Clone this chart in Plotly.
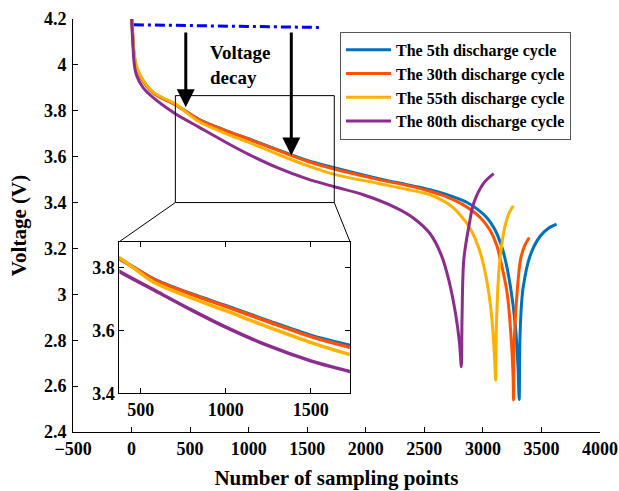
import plotly.graph_objects as go

# ---------------- data ----------------
names = ["The 5th discharge cycle", "The 30th discharge cycle",
         "The 55th discharge cycle", "The 80th discharge cycle"]
colors = ["#0072BD", "#FF5200", "#FFB000", "#8B2C8E"]

x_c5 = [1, 10, 22, 40, 74, 188, 374, 574, 800, 1000, 1250, 1500, 1731, 2121, 2350, 2548,
        2700, 2866, 3036, 3100, 3150, 3187, 3235, 3278, 3300, 3310,
        3316, 3330, 3345, 3401, 3487, 3560, 3629]
v_c5 = [4.20, 4.13, 4.04, 3.99, 3.95, 3.877, 3.827, 3.763, 3.715, 3.678, 3.630, 3.584, 3.552, 3.503, 3.478, 3.456,
        3.433, 3.400, 3.333, 3.285, 3.225, 3.160, 3.035, 2.860, 2.680, 2.542,
        2.800, 2.960, 3.034, 3.165, 3.252, 3.288, 3.306]

x_c30 = [1, 10, 22, 40, 74, 188, 374, 574, 800, 1000, 1250, 1500, 1731, 2121, 2350, 2548,
         2700, 2833, 2975, 3060, 3117, 3145, 3207, 3244, 3258, 3262,
         3268, 3292, 3321, 3355, 3396]
v_c30 = [4.20, 4.13, 4.04, 3.99, 3.95, 3.877, 3.827, 3.762, 3.714, 3.676, 3.627, 3.580, 3.546, 3.499, 3.475, 3.449,
         3.423, 3.390, 3.336, 3.280, 3.215, 3.160, 3.006, 2.788, 2.640, 2.539,
         2.800, 3.006, 3.151, 3.210, 3.248]

x_c55 = [1, 10, 22, 40, 74, 188, 374, 574, 800, 1000, 1250, 1500, 1731, 2121, 2350, 2548,
         2638, 2724, 2808, 2888, 2940, 2990, 3040, 3078, 3100, 3109,
         3115, 3130, 3145, 3188, 3220, 3259]
v_c55 = [4.20, 4.13, 4.05, 4.00, 3.955, 3.880, 3.830, 3.753, 3.702, 3.662, 3.610, 3.561, 3.523, 3.482, 3.458, 3.434,
         3.414, 3.387, 3.345, 3.290, 3.235, 3.160, 3.040, 2.889, 2.720, 2.626,
         2.850, 3.050, 3.151, 3.296, 3.350, 3.386]

x_c80 = [1, 10, 20, 30, 46, 100, 188, 374, 574, 800, 1000, 1250, 1500, 1731, 1979, 2263,
         2400, 2548, 2646, 2710, 2766, 2800, 2816,
         2822, 2837, 2880, 2922, 3007, 3092]
v_c80 = [4.20, 4.10, 4.02, 3.98, 3.95, 3.90, 3.856, 3.787, 3.729, 3.664, 3.610, 3.551, 3.503, 3.469, 3.434, 3.376,
         3.335, 3.265, 3.170, 3.060, 2.918, 2.790, 2.684,
         2.900, 3.151, 3.296, 3.398, 3.485, 3.526]

ref_x = [20, 1610]          # blue dash-dot reference line
ref_v = [4.175, 4.163]

arrow_x = [463, 1364]        # "voltage decay" arrows
arrow_top = [4.148, 4.148]
arrow_tip = [3.815, 3.605]

main_xticks = [-500, 0, 500, 1000, 1500, 2000, 2500, 3000, 3500, 4000]
main_xlabels = ["\u2212500", "0", "500", "1000", "1500", "2000", "2500", "3000", "3500", "4000"]
main_yticks = [2.4, 2.6, 2.8, 3.0, 3.2, 3.4, 3.6, 3.8, 4.0, 4.2]
main_ylabels = ["2.4", "2.6", "2.8", "3", "3.2", "3.4", "3.6", "3.8", "4", "4.2"]
inset_xticks = [500, 1000, 1500]
inset_xlabels = ["500", "1000", "1500"]
inset_yticks = [3.4, 3.6, 3.8]
inset_ylabels = ["3.4", "3.6", "3.8"]

# ---------------- layout constants ----------------
W, H = 619, 491
ML, MR, MT, MB = 73, 19, 19, 59
X_RANGE = [-500, 4000]
Y_RANGE = [2.4, 4.2]
INSET_X = [374, 1731]
INSET_Y = [3.4, 3.881]
RECT_Y = [3.4, 3.866]
INSET_DOM_X = [0.0879, 0.5256]
INSET_DOM_Y = [0.0937, 0.4608]

FONT = "Liberation Serif"

def bold(labels):
    return ["<b>%s</b>" % t for t in labels]

series = [(x_c5, v_c5), (x_c30, v_c30), (x_c55, v_c55), (x_c80, v_c80)]

fig = go.Figure()
for (xs, vs), nm, col in zip(series, names, colors):
    fig.add_trace(go.Scatter(x=xs, y=vs, mode="lines", name="<b>%s</b>" % nm,
                             line=dict(color=col, width=3, shape="spline", smoothing=0.9),
                             xaxis="x", yaxis="y"))
for (xs, vs), nm, col in zip(series, names, colors):
    fig.add_trace(go.Scatter(x=xs, y=vs, mode="lines", name=nm, showlegend=False,
                             line=dict(color=col, width=3.5, shape="spline", smoothing=0.9),
                             xaxis="x2", yaxis="y2"))

fig.add_trace(go.Scatter(x=ref_x, y=ref_v, mode="lines", showlegend=False,
                         line=dict(color="#0000FF", width=3, dash="10px,4px,3px,4px"),
                         xaxis="x", yaxis="y"))

def to_paper_x(v):
    return (v - X_RANGE[0]) / (X_RANGE[1] - X_RANGE[0])

def to_paper_y(v):
    return (v - Y_RANGE[0]) / (Y_RANGE[1] - Y_RANGE[0])

shapes = [
    dict(type="rect", xref="x", yref="y", x0=INSET_X[0], x1=INSET_X[1],
         y0=RECT_Y[0], y1=RECT_Y[1], line=dict(color="black", width=1)),
    dict(type="line", xref="paper", yref="paper",
         x0=to_paper_x(INSET_X[0]), y0=to_paper_y(RECT_Y[0]),
         x1=INSET_DOM_X[0], y1=INSET_DOM_Y[1], line=dict(color="black", width=1)),
    dict(type="line", xref="paper", yref="paper",
         x0=to_paper_x(INSET_X[1]), y0=to_paper_y(RECT_Y[0]),
         x1=INSET_DOM_X[1], y1=INSET_DOM_Y[1], line=dict(color="black", width=1)),
]

annotations = []
for ax_, top, tip in zip(arrow_x, arrow_top, arrow_tip):
    annotations.append(dict(x=ax_, y=tip, ax=ax_, ay=top, xref="x", yref="y",
                            axref="x", ayref="y", text="", showarrow=True,
                            arrowhead=2, arrowsize=1.2, arrowwidth=3, arrowcolor="black"))
annotations.append(dict(x=654, y=4.0, xref="x", yref="y", xanchor="left", yanchor="middle",
                        text="<b>Voltage<br>decay</b>", showarrow=False, align="left",
                        font=dict(family=FONT, size=19, color="black")))

tickfont = dict(family=FONT, size=18, color="black")
axis_common = dict(showline=True, linecolor="black", linewidth=1, ticks="inside",
                   ticklen=5, tickcolor="black", showgrid=False, zeroline=False,
                   tickfont=tickfont)

fig.update_layout(
    width=W, height=H,
    margin=dict(l=ML, r=MR, t=MT, b=MB, autoexpand=False),
    paper_bgcolor="white", plot_bgcolor="white",
    font=dict(family=FONT, color="black"),
    xaxis=dict(domain=[0, 1], range=X_RANGE, tickvals=main_xticks, ticktext=bold(main_xlabels),
               mirror=False,
               title=dict(text="<b>Number of sampling points</b>", standoff=12,
                          font=dict(family=FONT, size=21, color="black")),
               **axis_common),
    yaxis=dict(domain=[0, 1], range=Y_RANGE, tickvals=main_yticks, ticktext=bold(main_ylabels),
               mirror=False, ticklabelstandoff=2,
               title=dict(text="<b>Voltage (V)</b>", standoff=11,
                          font=dict(family=FONT, size=21, color="black")),
               **axis_common),
    xaxis2=dict(domain=INSET_DOM_X, range=INSET_X, tickvals=inset_xticks,
                ticktext=bold(inset_xlabels), anchor="y2", mirror="ticks", **axis_common),
    yaxis2=dict(domain=INSET_DOM_Y, range=INSET_Y, tickvals=inset_yticks,
                ticktext=bold(inset_ylabels), anchor="x2", mirror="ticks", **axis_common),
    legend=dict(x=0.5066, y=0.969, xanchor="left", yanchor="top",
                bgcolor="white", bordercolor="#555555", borderwidth=1,
                font=dict(family=FONT, size=16, color="black"),
                tracegroupgap=0, itemwidth=45),
    shapes=shapes, annotations=annotations, showlegend=True,
)

fig.write_html("out.html")
